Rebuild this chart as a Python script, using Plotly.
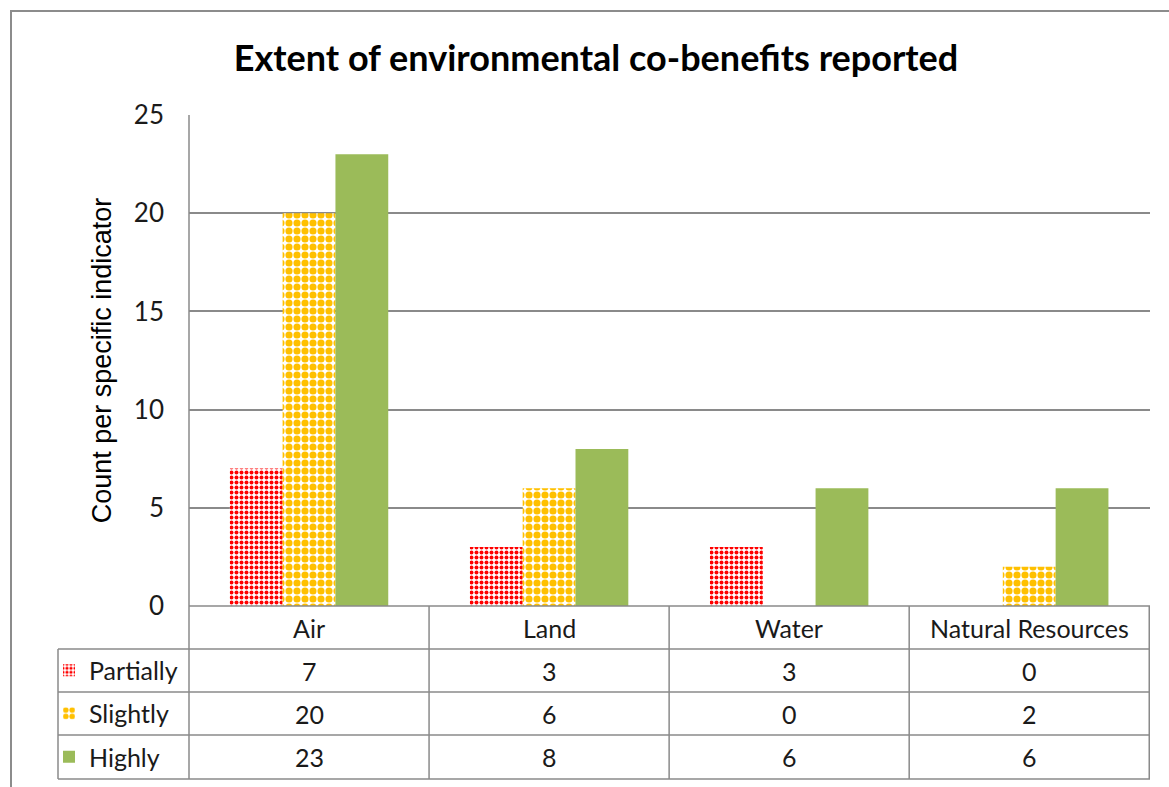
import plotly.graph_objects as go

# ---- data -------------------------------------------------------------
categories = ["Air", "Land", "Water", "Natural Resources"]
partially = [7, 3, 3, 0]
slightly = [20, 6, 0, 2]
highly = [23, 8, 6, 6]
series_names = ["Partially", "Slightly", "Highly"]
y_ticks = [0, 5, 10, 15, 20, 25]

# ---- layout geometry (pixels) -----------------------------------------
W, H = 1169, 787
PL, PR, PT, PB = 189, 1150, 115, 606      # plot area
TABLE_LEFT = 58
ROW_EDGES = [606, 649, 692, 735, 779]     # header row + three data rows
GRID = "#8a8a8a"
FONT = "Lato"
TEXT = "#1a1a1a"


def fx(px):
    return (px - PL) / (PR - PL)


def fy(py):
    return (PB - py) / (PB - PT)


series = [
    dict(name="Partially", values=partially,
         pattern=dict(shape=".", fgcolor="#FF0000", bgcolor="white", fgopacity=1,
                      size=5, solidity=0.5)),
    dict(name="Slightly", values=slightly,
         pattern=dict(shape=".", fgcolor="#FFC000", bgcolor="white", fgopacity=1,
                      size=8, solidity=0.62)),
    dict(name="Highly", values=highly, pattern=None),
]
colors = {"Partially": "white", "Slightly": "white", "Highly": "#9BBB59"}
legend_ids = ["legend", "legend2", "legend3"]

fig = go.Figure()
for i, s in enumerate(series):
    marker = dict(color=colors[s["name"]], line=dict(width=0))
    if s["pattern"]:
        marker["pattern"] = s["pattern"]
    fig.add_trace(go.Bar(
        x=categories, y=s["values"], name=s["name"], marker=marker,
        legend=legend_ids[i], showlegend=True,
    ))

# ---- data table below the axis ----------------------------------------
annotations = []
row_centers = [(ROW_EDGES[k] + ROW_EDGES[k + 1]) / 2 for k in range(4)]
for cat in categories:
    annotations.append(dict(x=cat, xref="x", y=fy(row_centers[0]), yref="paper",
                            text=cat, showarrow=False, yanchor="middle",
                            font=dict(family=FONT, size=25, color=TEXT)))
for r, s in enumerate(series):
    for cat, v in zip(categories, s["values"]):
        annotations.append(dict(x=cat, xref="x", y=fy(row_centers[r + 1]), yref="paper",
                                text=str(v), showarrow=False, yanchor="middle",
                                font=dict(family=FONT, size=25, color=TEXT)))

line = dict(color=GRID, width=1.5)
shapes = []
# horizontal rules
shapes.append(dict(type="line", xref="paper", yref="paper", x0=fx(PL), x1=fx(PR),
                   y0=fy(ROW_EDGES[0]), y1=fy(ROW_EDGES[0]), line=line))
for e in ROW_EDGES[1:]:
    shapes.append(dict(type="line", xref="paper", yref="paper", x0=fx(TABLE_LEFT), x1=fx(PR),
                       y0=fy(e), y1=fy(e), line=line))
# vertical rules
shapes.append(dict(type="line", xref="paper", yref="paper", x0=fx(PL), x1=fx(PL),
                   y0=fy(PT), y1=fy(ROW_EDGES[-1]), line=line))
shapes.append(dict(type="line", xref="paper", yref="paper", x0=fx(TABLE_LEFT), x1=fx(TABLE_LEFT),
                   y0=fy(ROW_EDGES[1]), y1=fy(ROW_EDGES[-1]), line=line))
for k in range(1, len(categories) + 1):
    shapes.append(dict(type="line", xref="x", yref="paper", x0=k - 0.5, x1=k - 0.5,
                       y0=fy(ROW_EDGES[0]), y1=fy(ROW_EDGES[-1]), line=line))
# chart frame
shapes.append(dict(type="rect", xref="paper", yref="paper", x0=fx(11), x1=fx(W + 20),
                   y0=fy(H + 20), y1=fy(11), line=dict(color="#8c8c8c", width=2)))

legend_common = dict(xanchor="left", yanchor="middle", bgcolor="rgba(0,0,0,0)",
                     font=dict(family=FONT, size=25, color=TEXT))
layout_legends = {}
for r, lid in enumerate(legend_ids):
    layout_legends[lid] = dict(x=fx(TABLE_LEFT - 9), y=fy(row_centers[r + 1]), **legend_common)

fig.update_layout(
    width=W, height=H,
    margin=dict(l=PL, r=W - PR, t=PT, b=H - PB, autoexpand=False),
    paper_bgcolor="white", plot_bgcolor="white",
    barmode="group", bargap=0.34, bargroupgap=0,
    title=dict(text="<b>Extent of environmental co-benefits reported</b>",
               xref="container", x=596 / W, xanchor="center",
               y=1 - 58 / H, yanchor="middle",
               font=dict(family=FONT, size=36, color="black")),
    xaxis=dict(showticklabels=False, showgrid=False, zeroline=False, showline=False,
               ticks=""),
    yaxis=dict(range=[0, 25], tickvals=y_ticks, showgrid=True, gridcolor=GRID, gridwidth=1.5,
               zeroline=False, showline=False, ticks="", ticklabelstandoff=24,
               tickfont=dict(family=FONT, size=26, color=TEXT),
               title=dict(text="Count per specific indicator", standoff=14,
                          font=dict(family="Liberation Sans", size=27, color="black"))),
    annotations=annotations,
    shapes=shapes,
    **layout_legends,
)

fig.write_html("out.html")
